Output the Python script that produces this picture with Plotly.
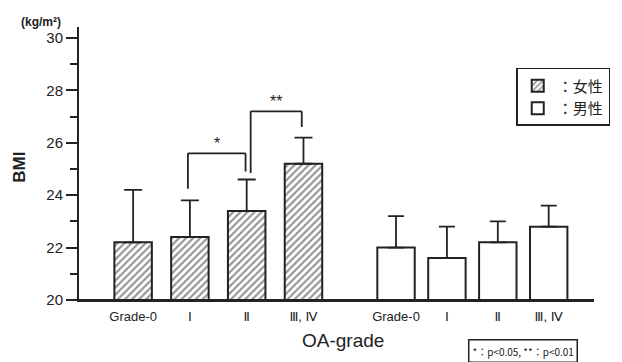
import plotly.graph_objects as go

categories = ["Grade-0", "Ⅰ", "Ⅱ", "Ⅲ, Ⅳ"]
female_bmi = [22.2, 22.4, 23.4, 25.2]
female_sd = [2.0, 1.4, 1.2, 1.0]
male_bmi = [22.0, 21.6, 22.2, 22.8]
male_sd = [1.2, 1.2, 0.8, 0.8]

# significance brackets (female): pair of categories, bracket top, leg bottoms, label
sig_pairs = [("Ⅰ", "Ⅱ"), ("Ⅱ", "Ⅲ, Ⅳ")]
sig_top = [25.6, 27.2]
sig_left_bottom = [24.25, 24.85]
sig_right_bottom = [24.9, 26.6]
sig_labels = ["*", "**"]

INK = "#222222"
FONT = "Liberation Sans, DejaVu Sans, Noto Sans CJK JP, sans-serif"
CJK = "Noto Sans CJK JP, Liberation Sans, sans-serif"

fig = go.Figure()

fig.add_trace(go.Bar(
    x=categories, y=female_bmi, name="：女性", xaxis="x", yaxis="y",
    base=0, width=0.66,
    marker=dict(color="white", line=dict(color=INK, width=2),
                pattern=dict(shape="/", size=5, solidity=0.42, fgcolor="#2a2a2a", bgcolor="white")),
    error_y=dict(type="data", array=female_sd, arrayminus=[0] * 4, symmetric=False,
                 thickness=1.8, width=9, color=INK),
))
fig.add_trace(go.Bar(
    x=categories, y=male_bmi, name="：男性", xaxis="x2", yaxis="y",
    base=0, width=0.735,
    marker=dict(color="white", line=dict(color=INK, width=2)),
    error_y=dict(type="data", array=male_sd, arrayminus=[0] * 4, symmetric=False,
                 thickness=1.8, width=8, color=INK),
))

shapes = []
annotations = []
offs = [(-0.035, -0.02), (0.07, -0.03)]
for (a, b), top, lb, rb, lab, (oa, ob) in zip(sig_pairs, sig_top, sig_left_bottom,
                                              sig_right_bottom, sig_labels, offs):
    xa = categories.index(a) + oa
    xb = categories.index(b) + ob
    line = dict(color=INK, width=1.8)
    shapes.append(dict(type="line", xref="x", yref="y", x0=xa, x1=xa, y0=lb, y1=top, line=line))
    shapes.append(dict(type="line", xref="x", yref="y", x0=xa, x1=xb, y0=top, y1=top, line=line))
    shapes.append(dict(type="line", xref="x", yref="y", x0=xb, x1=xb, y0=rb, y1=top, line=line))
    annotations.append(dict(xref="x", yref="y", x=(xa + xb) / 2, y=top, text=lab,
                            showarrow=False, xanchor="center", yanchor="bottom", yshift=-1,
                            font=dict(family=FONT, size=16, color=INK)))

# baseline across both groups
shapes.append(dict(type="line", xref="paper", yref="paper", x0=0, x1=1, y0=0, y1=0,
                   line=dict(color=INK, width=2)))

annotations += [
    dict(xref="paper", yref="paper", x=-0.117, y=0.487, text="<b>BMI</b>", textangle=-90,
         xanchor="center", yanchor="middle",
         showarrow=False, font=dict(family=FONT, size=17, color=INK)),
    dict(xref="paper", yref="paper", x=-0.074, y=1.018, text="<b>(kg/m²)</b>",
         xanchor="center", yanchor="middle",
         showarrow=False, font=dict(family=FONT, size=12, color=INK)),
    dict(xref="paper", yref="paper", x=0.512, y=-0.147, text="OA-grade",
         xanchor="center", yanchor="middle",
         showarrow=False, font=dict(family=FONT, size=19, color=INK)),
    dict(xref="paper", yref="paper", x=0.755, y=-0.143, xanchor="left", yanchor="top",
         text="*：p<0.05, **：p<0.01", showarrow=False,
         bordercolor=INK, borderwidth=1.5, borderpad=3, bgcolor="white",
         font=dict(family=CJK, size=10, color=INK)),
]

xcommon = dict(type="category", showline=True, linecolor=INK, linewidth=2, showgrid=False,
               zeroline=False, ticks="outside", ticklen=3, tickcolor="rgba(0,0,0,0)",
               tickfont=dict(family=FONT, size=13, color=INK), anchor="y")

fig.update_layout(
    width=622, height=362,
    margin=dict(l=79, r=20, t=27, b=62),
    paper_bgcolor="white", plot_bgcolor="white",
    showlegend=True,
    legend=dict(x=0.849, y=0.85, xanchor="left", yanchor="top",
                bordercolor=INK, borderwidth=1.5, bgcolor="white",
                font=dict(family=CJK, size=15, color=INK), tracegroupgap=4),
    xaxis=dict(domain=[0, 0.5296], range=[-0.953, 3.85], **xcommon),
    xaxis2=dict(domain=[0.5296, 1], range=[-0.87, 3.89], **xcommon),
    yaxis=dict(range=[20, 30.42], tickvals=[20, 22, 24, 26, 28, 30], showgrid=False,
               zeroline=False, showline=True, linecolor=INK, linewidth=2,
               ticks="outside", ticklen=11, tickwidth=2, tickcolor=INK,
               minor=dict(tickvals=[21, 23, 25, 27, 29], ticks="outside", ticklen=7,
                          tickwidth=1.5, tickcolor=INK),
               tickfont=dict(family=FONT, size=15, color=INK)),
    shapes=shapes,
    annotations=annotations,
)

fig.write_html("out.html")
